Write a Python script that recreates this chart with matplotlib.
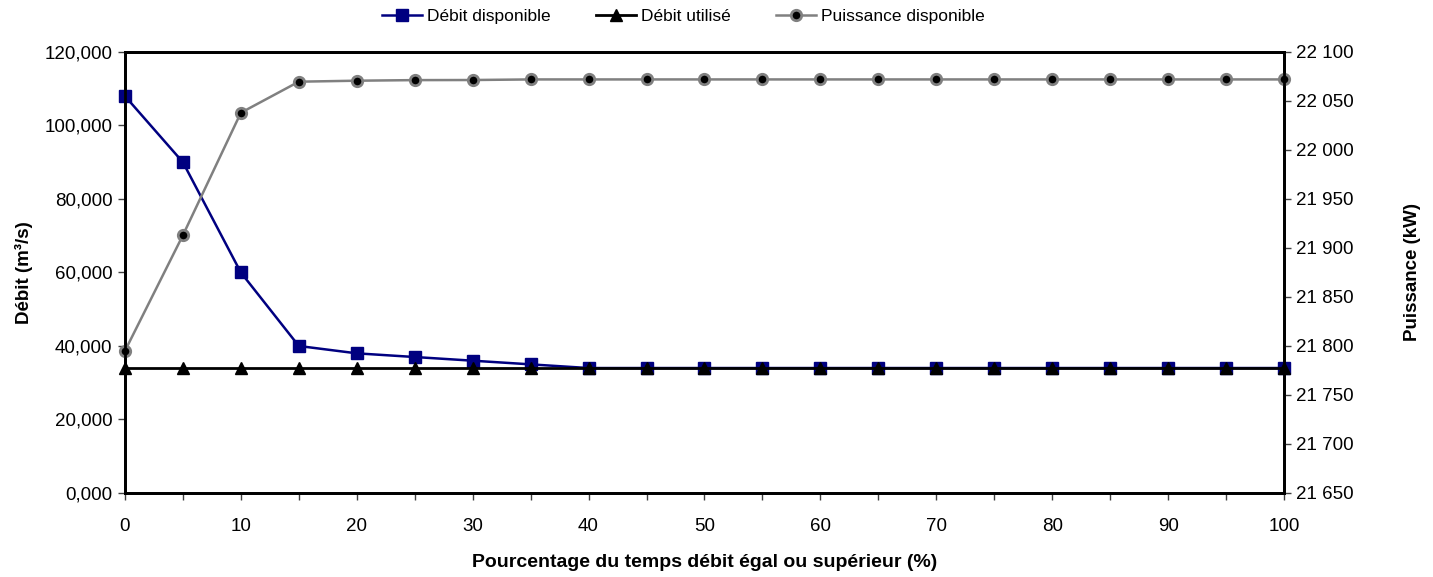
import matplotlib
matplotlib.use("Agg")
import matplotlib.pyplot as plt
from matplotlib.ticker import FixedLocator, FuncFormatter

plt.rcParams['font.family'] = ['Liberation Sans Narrow', 'Liberation Sans', 'DejaVu Sans']

# data
pct = [0, 5, 10, 15, 20, 25, 30, 35, 40, 45, 50, 55, 60, 65, 70, 75, 80, 85, 90, 95, 100]
debit_dispo = [108, 90, 60, 40, 38, 37, 36, 35, 34, 34, 34, 34, 34, 34, 34, 34, 34, 34, 34, 34, 34]
debit_util = [34] * 21
puissance = [21795, 21913, 22038, 22069.7, 22070.7, 22071.3, 22071.4, 22072, 22072, 22072, 22072,
             22072, 22072, 22072, 22072, 22072, 22072, 22072, 22072, 22072, 22072]

fig = plt.figure(figsize=(14.33, 5.77), dpi=100)
ax = fig.add_axes([0.0872, 0.1456, 0.8088, 0.7643])

l1, = ax.plot(pct, debit_dispo, color='#000080', lw=1.8, marker='s', ms=8.5,
              markeredgecolor='#000080', label='Débit disponible', zorder=3, clip_on=False)
l2, = ax.plot(pct, debit_util, color='black', lw=2, marker='^', ms=8,
              label='Débit utilisé', zorder=4, clip_on=False)

ax2 = ax.twinx()
l3, = ax2.plot(pct, puissance, color='#808080', lw=1.8, marker='o', ms=7.5,
               markerfacecolor='black', markeredgecolor='#808080', markeredgewidth=2,
               label='Puissance disponible', clip_on=False)

ax.set_xlim(0, 100)
ax.set_ylim(0, 120)
ax2.set_ylim(21650, 22100)

ax.xaxis.set_major_locator(FixedLocator(list(range(0, 101, 10))))
ax.xaxis.set_minor_locator(FixedLocator(list(range(5, 100, 10))))
ax.set_yticks(range(0, 121, 20))
ax.yaxis.set_major_formatter(FuncFormatter(lambda v, p: f"{v:.3f}".replace('.', ',')))
ax2.set_yticks(range(21650, 22101, 50))
ax2.yaxis.set_major_formatter(FuncFormatter(lambda v, p: f"{int(v):,}".replace(',', ' ')))

for a in (ax, ax2):
    for s in a.spines.values():
        s.set_linewidth(2)
    a.tick_params(axis='both', which='both', direction='out', length=5, width=1,
                  color='#404040', labelsize=13.5)
ax.tick_params(axis='x', which='both', pad=13)
ax.tick_params(axis='y', pad=4)
ax2.tick_params(axis='y', pad=4)

ax.set_xlabel('Pourcentage du temps débit égal ou supérieur (%)', fontsize=14,
              fontweight='bold', labelpad=14)
ax.set_ylabel('Débit (m³/s)', fontsize=13.5, fontweight='bold', labelpad=8)
ax2.set_ylabel('Puissance (kW)', fontsize=13.5, fontweight='bold', labelpad=36)

fig.legend(handles=[l1, l2, l3], loc='upper center', bbox_to_anchor=(0.477, 1.012),
           ncol=3, frameon=False, fontsize=12.5, handlelength=2.3, handletextpad=0.3,
           columnspacing=2.6)

fig.savefig('out.png', dpi=100)
